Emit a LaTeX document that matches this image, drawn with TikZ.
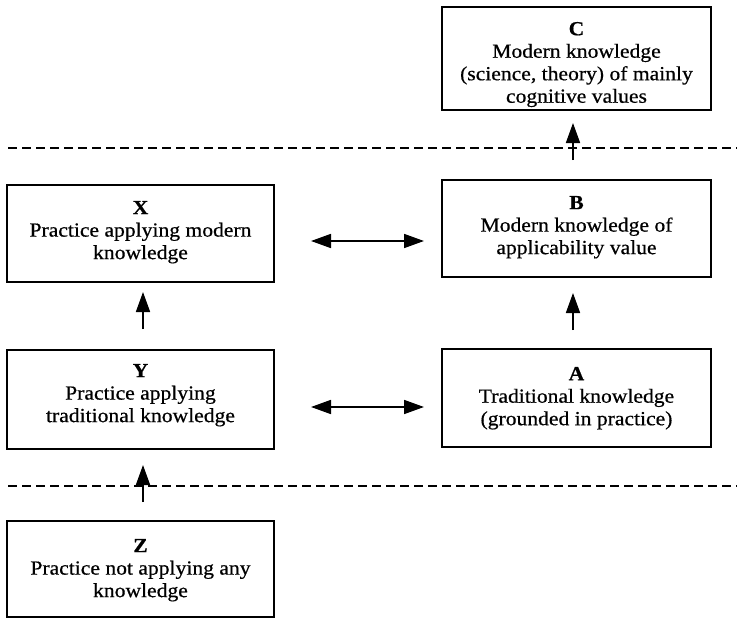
\documentclass[tikz,border=0pt]{standalone}
\usepackage{fontspec}
\setmainfont[FakeStretch=1.08,FakeBold=0.6]{Liberation Serif}
\usetikzlibrary{arrows.meta}
\newcommand{\bxt}[4]{\parbox[c][#2pt][t]{#1pt}{\centering\fontsize{20}{22.5}\selectfont\vspace*{#3pt}#4}}
\begin{document}
\begin{tikzpicture}[x=1pt,y=-1pt,
  box/.style={draw, line width=1.8pt, inner sep=0pt, outer sep=0pt, anchor=north west},
  arr/.style={line width=1.7pt, -{Triangle[length=20pt,width=14pt]}},
  darr/.style={line width=1.7pt, {Triangle[length=20pt,width=14pt]}-{Triangle[length=20pt,width=14pt]}},
  sep/.style={line width=1.6pt, dash pattern=on 9pt off 5pt}]
\useasboundingbox (0,0) rectangle (737,619);

\node[box] (C) at (442,7) {\bxt{269}{103}{15}{\textbf{C}\\Modern knowledge\\(science, theory) of mainly\\cognitive values}};
\node[box] (B) at (442,180) {\bxt{269}{97}{16}{\textbf{B}\\Modern knowledge of\\applicability value}};
\node[box] (X) at (7,185) {\bxt{267}{97}{16}{\textbf{X}\\Practice applying modern\\knowledge}};
\node[box] (Y) at (7,350) {\bxt{267}{99}{14}{\textbf{Y}\\Practice applying\\traditional knowledge}};
\node[box] (A) at (442,349) {\bxt{269}{98}{18}{\textbf{A}\\Traditional knowledge\\(grounded in practice)}};
\node[box] (Z) at (7,521) {\bxt{267}{96}{18}{\textbf{Z}\\Practice not applying any\\knowledge}};

\coordinate (d1l) at (8,148);
\coordinate (d1r) at (737,148);
\coordinate (d2l) at (8,486);
\coordinate (d2r) at (737,486);
\draw[sep] (d1l) -- (d1r);
\draw[sep] (d2l) -- (d2r);

\draw[arr, shorten <=20pt, shorten >=13pt] ([xshift=-3.5pt]B.north) -- ([xshift=-3.5pt]C.south);
\draw[arr, shorten <=19pt, shorten >=16pt] ([xshift=-3.5pt]A.north) -- ([xshift=-3.5pt]B.south);
\draw[arr, shorten <=21pt, shorten >=10pt] ([xshift=2.5pt]Y.north) -- ([xshift=2.5pt]X.south);
\draw[arr, shorten <=19pt, shorten >=16pt] ([xshift=2.5pt]Z.north) -- ([xshift=2.5pt]Y.south);

\draw[darr, shorten <=37pt, shorten >=18pt] (X.east |- 0,241) -- (B.west |- 0,241);
\draw[darr, shorten <=37pt, shorten >=18pt] (Y.east |- 0,407) -- (A.west |- 0,407);
\end{tikzpicture}
\end{document}
